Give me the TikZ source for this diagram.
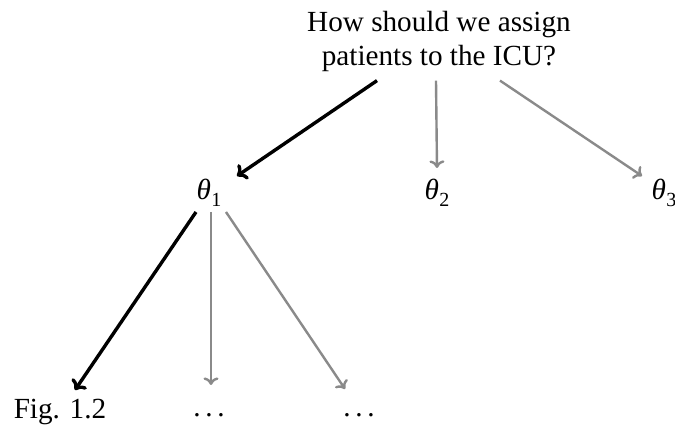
\documentclass[tikz,border=0pt]{standalone}
\usepackage{fontspec}
\setmainfont{Liberation Serif}
\usetikzlibrary{arrows.meta}
\newcommand{\thetasub}[1]{\textit{θ}\kern0.3pt\raisebox{-0.45ex}{\fontsize{10}{12}\selectfont #1}}
\newcommand{\dotrow}{.\kern2.4pt.\kern2.4pt.}
\definecolor{branchgray}{gray}{0.54}
\begin{document}
\begin{tikzpicture}[x=0.5pt,y=-0.5pt,
  lbl/.style={inner sep=0pt, font=\fontsize{14.6}{17}\selectfont},
  chosen/.style={-{To[length=4.5pt,width=9pt]}, line width=1.7pt, black},
  other/.style={-{To[length=3.8pt,width=7.5pt]}, line width=1.2pt, branchgray}]
  \useasboundingbox (0,0) rectangle (675,431);
  % question and first level
  \node[lbl, align=center, anchor=base] (root) at (439,66) {How should we assign\\patients to the ICU?};
  \node[lbl, anchor=base] (t1) at (209,200) {\thetasub{1}};
  \node[lbl, anchor=base] (t2) at (437,200) {\thetasub{2}};
  \node[lbl, anchor=base] (t3) at (664,200) {\thetasub{3}};
  % second level under theta_1
  \node[lbl, anchor=base] (fig) at (60,419) {Fig. 1.2};
  \node[lbl, anchor=base] (d1) at (209,417) {\dotrow};
  \node[lbl, anchor=base] (d2) at (359,417) {\dotrow};
  % connectors
  \draw[chosen] ([shift={(-62,8)}]root.south) -- ([shift={(28,-24)}]t1.base);
  \draw[other]  ([shift={(-3,8)}]root.south)  -- ([shift={(0,-32)}]t2.base);
  \draw[other]  ([shift={(61,8)}]root.south)  -- ([shift={(-22,-24)}]t3.base);
  \draw[chosen] ([shift={(-13,12)}]t1.base) -- ([shift={(15,-29)}]fig.base);
  \draw[other]  ([shift={(2,12)}]t1.base)   -- ([shift={(2,-32)}]d1.base);
  \draw[other]  ([shift={(17,12)}]t1.base)  -- ([shift={(-14,-28)}]d2.base);
\end{tikzpicture}
\end{document}
